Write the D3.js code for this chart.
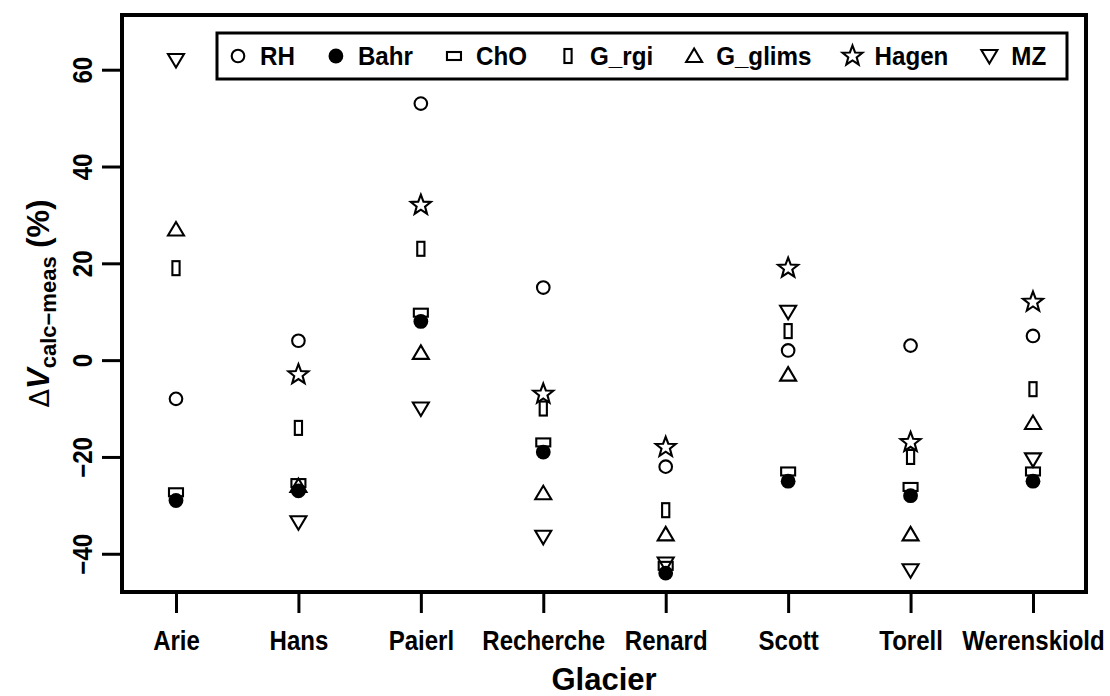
<!DOCTYPE html>
<html>
<head>
<meta charset="utf-8">
<script src="https://cdn.jsdelivr.net/npm/d3@7/dist/d3.min.js"></script>
<style>
  html, body { margin: 0; padding: 0; background: #fff; }
  svg { display: block; }
  text { font-family: "Liberation Sans", Arial, sans-serif; font-weight: bold; fill: #000; }
</style>
</head>
<body>
<svg id="chart" width="1110" height="696"></svg>
<script>
// ---- Data ----
const glaciers = ["Arie", "Hans", "Paierl", "Recherche", "Renard", "Scott", "Torell", "Werenskiold"];
const seriesNames = ["RH", "Bahr", "ChO", "G_rgi", "G_glims", "Hagen", "MZ"];
const RH      = [-8,   4,   53,  15,  -22,  2,   3,   5];
const Bahr    = [-29, -27,  8,  -19,  -44, -25, -28, -25];
const ChO     = [-27.3, -25.4, 9.8, -17, -42.5, -23, -26.2, -23];
const G_rgi   = [19,  -14,  23,  -10,  -31,  6,  -20,  -6];
const G_glims = [27,  -26,  1.5, -27.5, -36, -3,  -36, -13];
const Hagen   = [null, -3,  32,  -7,  -18,  19, -17,  12];
const MZ      = [62,  -33.5, -10, -36.5, -42, 10, -43.4, -20.5];
const yTicks  = [-40, -20, 0, 20, 40, 60];

const seriesValues = [RH, Bahr, ChO, G_rgi, G_glims, Hagen, MZ];

// ---- Layout ----
const svg = d3.select("#chart");
const L = 122, R = 1086, T = 15, B = 592;

const x = d3.scaleLinear().domain([-0.441, 7.433]).range([L, R]);
const y = d3.scaleLinear().domain([-47.9, 71.3]).range([B, T]);

// ---- Marker shapes ----
function starPath(ro) {
  const ri = ro * 0.42;
  const pts = [];
  for (let i = 0; i < 10; i++) {
    const r = i % 2 === 0 ? ro : ri;
    const a = -Math.PI / 2 + i * Math.PI / 5;
    pts.push([r * Math.cos(a), r * Math.sin(a)]);
  }
  return "M" + pts.map(p => p[0].toFixed(2) + "," + p[1].toFixed(2)).join("L") + "Z";
}
function drawMarker(g, type) {
  const sw = 2.1;
  switch (type) {
    case "RH":
      g.append("circle").attr("r", 6.3).attr("fill", "none").attr("stroke", "#000").attr("stroke-width", sw); break;
    case "Bahr":
      g.append("circle").attr("r", 7.4).attr("fill", "#000"); break;
    case "ChO":
      g.append("rect").attr("x", -7).attr("y", -4).attr("width", 14).attr("height", 8)
        .attr("fill", "none").attr("stroke", "#000").attr("stroke-width", sw); break;
    case "G_rgi":
      g.append("rect").attr("x", -3.6).attr("y", -7).attr("width", 7.2).attr("height", 14)
        .attr("fill", "none").attr("stroke", "#000").attr("stroke-width", sw); break;
    case "G_glims":
      g.append("path").attr("d", "M0,-7.5L8,6L-8,6Z")
        .attr("fill", "none").attr("stroke", "#000").attr("stroke-width", sw); break;
    case "Hagen":
      g.append("path").attr("d", starPath(10.5))
        .attr("fill", "none").attr("stroke", "#000").attr("stroke-width", sw); break;
    case "MZ":
      g.append("path").attr("d", "M0,7.5L8,-6L-8,-6Z")
        .attr("fill", "none").attr("stroke", "#000").attr("stroke-width", sw); break;
  }
}

// ---- Points ----
const pts = svg.append("g");
seriesNames.forEach((name, si) => {
  seriesValues[si].forEach((v, gi) => {
    if (v === null || v === undefined) return;
    const g = pts.append("g").attr("transform", `translate(${x(gi)},${y(v)})`);
    drawMarker(g, name);
  });
});

const FONT = '"Liberation Sans", Arial, sans-serif';

// ---- Axes ----
const xAxis = d3.axisBottom(x).tickValues(d3.range(glaciers.length))
  .tickFormat(i => glaciers[i]).tickSize(21).tickPadding(10);
const gx = svg.append("g").attr("transform", `translate(0,${B})`).call(xAxis);
gx.select(".domain").remove();
gx.selectAll(".tick line").attr("stroke", "#000").attr("stroke-width", 3);
gx.selectAll(".tick text").attr("font-size", 27).attr("dy", null).attr("y", 58)
  .attr("transform", "scale(0.89,1)")
  .style("font-family", FONT).style("font-weight", "bold");

const yAxis = d3.axisLeft(y).tickValues(yTicks).tickSize(20).tickFormat(d => d < 0 ? "\u2212" + Math.abs(d) : d);
const gy = svg.append("g").attr("transform", `translate(${L},0)`).call(yAxis);
gy.select(".domain").remove();
gy.selectAll(".tick line").attr("stroke", "#000").attr("stroke-width", 3);
gy.selectAll(".tick text")
  .attr("font-size", 27)
  .attr("x", null).attr("dy", null)
  .attr("text-anchor", "middle")
  .attr("transform", "translate(-30,0) rotate(-90) scale(0.89,1)")
  .style("font-family", FONT).style("font-weight", "bold");

// ---- Box ----
svg.append("rect").attr("x", L).attr("y", T).attr("width", R - L).attr("height", B - T)
  .attr("fill", "none").attr("stroke", "#000").attr("stroke-width", 4);

// ---- Axis titles ----
svg.append("text").attr("x", (L + R) / 2).attr("y", 690).attr("text-anchor", "middle")
  .attr("font-size", 31).text("Glacier");

const yl = svg.append("text").attr("transform", `translate(49,${(T + B) / 2}) rotate(-90)`)
  .attr("text-anchor", "middle").attr("font-size", 31);
yl.append("tspan").style("font-weight", "normal").style("font-family", '"DejaVu Sans", sans-serif').attr("font-size", 27).text("\u0394");
yl.append("tspan").style("font-style", "italic").text("V");
yl.append("tspan").attr("font-size", 22).attr("dy", 7).text("calc\u2212meas");
yl.append("tspan").attr("dy", -7).text(" (%)");

// ---- Legend ----
const leg = svg.append("g");
leg.append("rect").attr("x", 217).attr("y", 33).attr("width", 850).attr("height", 46)
  .attr("fill", "#fff").attr("stroke", "#000").attr("stroke-width", 3);
let mx = 238;
seriesNames.forEach(name => {
  const g = leg.append("g").attr("transform", `translate(${mx},56)`);
  drawMarker(g, name);
  const tg = leg.append("g").attr("transform", `translate(${mx + 22},65) scale(0.93,1)`);
  const t = tg.append("text").attr("x", 0).attr("y", 0).attr("font-size", 26).text(name);
  const w = t.node().getComputedTextLength() * 0.93;
  mx = mx + 22 + w + 41;
});
</script>
</body>
</html>
